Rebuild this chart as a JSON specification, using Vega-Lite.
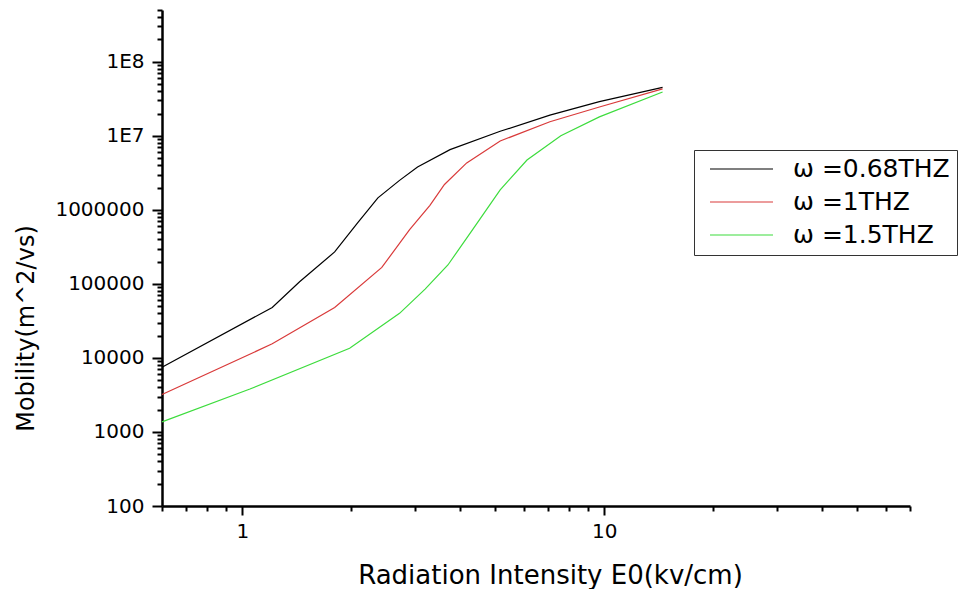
{
  "$schema": "https://vega.github.io/schema/vega-lite/v6.json",
  "width": 748,
  "height": 496,
  "autosize": {"type": "none"},
  "padding": {"left": 162, "top": 10, "right": 60, "bottom": 83},
  "background": "white",
  "config": {
    "view": {"stroke": null},
    "font": "DejaVu Sans"
  },
  "data": {
    "values": [
      {"E": 0.6, "mu": 7500, "s": "ω =0.68THZ"},
      {"E": 1.21, "mu": 48000, "s": "ω =0.68THZ"},
      {"E": 1.44, "mu": 107000, "s": "ω =0.68THZ"},
      {"E": 1.8, "mu": 270000, "s": "ω =0.68THZ"},
      {"E": 2.08, "mu": 660000, "s": "ω =0.68THZ"},
      {"E": 2.37, "mu": 1450000, "s": "ω =0.68THZ"},
      {"E": 2.72, "mu": 2500000, "s": "ω =0.68THZ"},
      {"E": 3.05, "mu": 3800000, "s": "ω =0.68THZ"},
      {"E": 3.75, "mu": 6500000, "s": "ω =0.68THZ"},
      {"E": 5.16, "mu": 11500000, "s": "ω =0.68THZ"},
      {"E": 7.08, "mu": 19000000, "s": "ω =0.68THZ"},
      {"E": 9.7, "mu": 29000000, "s": "ω =0.68THZ"},
      {"E": 14.5, "mu": 45000000, "s": "ω =0.68THZ"},
      {"E": 0.6, "mu": 3200, "s": "ω =1THZ"},
      {"E": 1.21, "mu": 15500, "s": "ω =1THZ"},
      {"E": 1.8, "mu": 48000, "s": "ω =1THZ"},
      {"E": 2.43, "mu": 167000, "s": "ω =1THZ"},
      {"E": 2.9, "mu": 540000, "s": "ω =1THZ"},
      {"E": 3.3, "mu": 1150000, "s": "ω =1THZ"},
      {"E": 3.62, "mu": 2200000, "s": "ω =1THZ"},
      {"E": 4.17, "mu": 4300000, "s": "ω =1THZ"},
      {"E": 5.16, "mu": 8500000, "s": "ω =1THZ"},
      {"E": 7.08, "mu": 15500000, "s": "ω =1THZ"},
      {"E": 9.7, "mu": 24500000, "s": "ω =1THZ"},
      {"E": 14.5, "mu": 43000000, "s": "ω =1THZ"},
      {"E": 0.6, "mu": 1370, "s": "ω =1.5THZ"},
      {"E": 1.05, "mu": 3800, "s": "ω =1.5THZ"},
      {"E": 1.98, "mu": 13500, "s": "ω =1.5THZ"},
      {"E": 2.72, "mu": 40000, "s": "ω =1.5THZ"},
      {"E": 3.2, "mu": 85000, "s": "ω =1.5THZ"},
      {"E": 3.7, "mu": 180000, "s": "ω =1.5THZ"},
      {"E": 4.33, "mu": 540000, "s": "ω =1.5THZ"},
      {"E": 5.16, "mu": 1860000, "s": "ω =1.5THZ"},
      {"E": 6.12, "mu": 4700000, "s": "ω =1.5THZ"},
      {"E": 7.59, "mu": 10000000, "s": "ω =1.5THZ"},
      {"E": 9.7, "mu": 18000000, "s": "ω =1.5THZ"},
      {"E": 14.5, "mu": 39000000, "s": "ω =1.5THZ"}
    ]
  },
  "resolve": {"axis": {"x": "independent", "y": "independent"}},
  "layer": [
    {
      "mark": {"type": "line", "strokeWidth": 1.2, "opacity": 0},
      "encoding": {
        "x": {
          "field": "E", "type": "quantitative",
          "scale": {"type": "log", "domain": [0.6, 70], "nice": false},
          "axis": {
            "orient": "bottom",
            "values": [0.6, 0.7, 0.8, 0.9, 2, 3, 4, 5, 6, 7, 8, 9, 20, 30, 40, 50, 60, 70],
            "labels": false, "domain": false, "grid": false, "title": null,
            "tickSize": 5, "tickWidth": 2, "tickColor": "black"
          }
        },
        "y": {
          "field": "mu", "type": "quantitative",
          "scale": {"type": "log", "domain": [100, 500000000], "nice": false},
          "axis": {
            "orient": "left",
            "values": [200,300,400,500,600,700,800,900,2000,3000,4000,5000,6000,7000,8000,9000,20000,30000,40000,50000,60000,70000,80000,90000,200000,300000,400000,500000,600000,700000,800000,900000,2000000,3000000,4000000,5000000,6000000,7000000,8000000,9000000,20000000,30000000,40000000,50000000,60000000,70000000,80000000,90000000,200000000,300000000,400000000,500000000],
            "labels": false, "domain": false, "grid": false, "title": null,
            "tickSize": 5, "tickWidth": 2, "tickColor": "black"
          }
        },
        "detail": {"field": "s"}
      }
    },
    {
      "mark": {"type": "line", "strokeWidth": 1.2},
      "encoding": {
        "x": {
          "field": "E", "type": "quantitative",
          "scale": {"type": "log", "domain": [0.6, 70], "nice": false},
          "axis": {
            "orient": "bottom",
            "values": [1, 10],
            "grid": false,
            "title": "Radiation Intensity E0(kv/cm)",
            "titleFontSize": 26, "titleFontWeight": "normal", "titleColor": "black",
            "titleX": 388, "titleY": 69, "titleBaseline": "middle",
            "labelFontSize": 20, "labelColor": "black", "labelPadding": 6,
            "tickSize": 9, "tickWidth": 2, "tickColor": "black",
            "domainColor": "black", "domainWidth": 2.5
          }
        },
        "y": {
          "field": "mu", "type": "quantitative",
          "scale": {"type": "log", "domain": [100, 500000000], "nice": false},
          "axis": {
            "orient": "left",
            "values": [100, 1000, 10000, 100000, 1000000, 10000000, 100000000],
            "labelExpr": "datum.value >= 1e7 ? '1E' + round(log(datum.value)/LN10) : format(datum.value, 'd')",
            "grid": false,
            "title": "Mobility(m^2/vs)",
            "titleFontSize": 24, "titleFontWeight": "normal", "titleColor": "black",
            "titleX": -136, "titleY": 318, "titleBaseline": "middle", "titleAngle": -90,
            "labelFontSize": 20, "labelColor": "black", "labelPadding": 8,
            "tickSize": 10, "tickWidth": 2, "tickColor": "black",
            "domainColor": "black", "domainWidth": 2.5
          }
        },
        "color": {
          "field": "s", "type": "nominal",
          "scale": {
            "domain": ["ω =0.68THZ", "ω =1THZ", "ω =1.5THZ"],
            "range": ["#000000", "#d93a3a", "#3ddc3d"]
          },
          "legend": {
            "title": null,
            "orient": "none",
            "legendX": 532,
            "legendY": 140,
            "symbolType": "stroke",
            "symbolSize": 3969,
            "symbolStrokeWidth": 1.2,
            "symbolOffset": 8,
            "labelFontSize": 25,
            "labelColor": "black",
            "labelOffset": 19,
            "clipHeight": 24,
            "rowPadding": 8,
            "padding": 7,
            "strokeColor": "#333333",
            "fillColor": "white"
          }
        }
      }
    }
  ]
}
